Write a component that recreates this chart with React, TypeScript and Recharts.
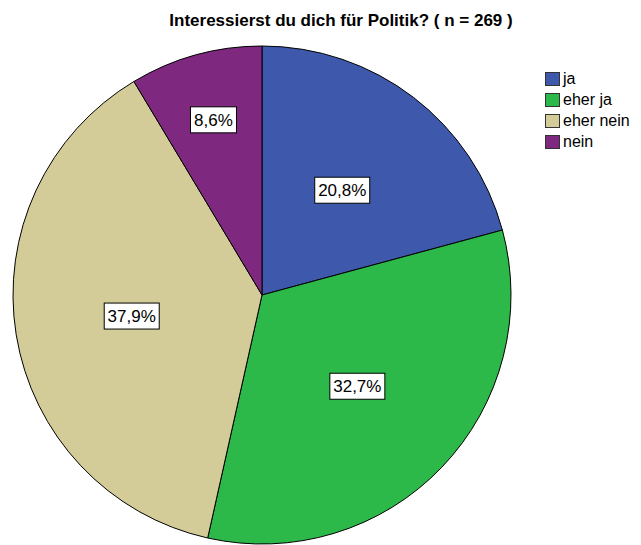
import { PieChart, Pie, Cell, Legend } from 'recharts';

const categories = ['ja', 'eher ja', 'eher nein', 'nein'];
const values = [20.8, 32.7, 37.9, 8.6];
const COLORS = ['#3e58ac', '#2db84a', '#d3cc98', '#7e287f'];

const data = categories.map((name, i) => ({ name, value: values[i] }));

const RADIAN = Math.PI / 180;
const FONT = 'Liberation Sans, Arial, sans-serif';

// SPSS-style boxed percentage labels
function renderLabel(props: any) {
  const { cx, cy, midAngle, outerRadius, value } = props;
  const factor = value < 10 ? 0.73 : 0.53;
  const r = outerRadius * factor;
  const x = cx + r * Math.cos(-midAngle * RADIAN);
  const y = cy + r * Math.sin(-midAngle * RADIAN);
  const text = value.toFixed(1).replace('.', ',') + '%';
  const w = text.length * 9 + 10;
  return (
    <g>
      <rect x={x - w / 2} y={y - 13} width={w} height={26} fill="#fff" stroke="#000" strokeWidth={1} />
      <text x={x} y={y + 6} textAnchor="middle" fontSize={17} fill="#000" fontFamily={FONT}>
        {text}
      </text>
    </g>
  );
}

function renderLegend() {
  return (
    <div style={{ fontFamily: FONT, fontSize: 16 }}>
      {data.map((d, i) => (
        <div key={d.name} style={{ display: 'flex', alignItems: 'center', height: 21 }}>
          <span
            style={{
              width: 15,
              height: 14,
              background: COLORS[i],
              border: '1px solid #333',
              marginRight: 3,
              boxSizing: 'border-box',
            }}
          />
          <span>{d.name}</span>
        </div>
      ))}
    </div>
  );
}

export default function App() {
  return (
    <div style={{ position: 'absolute', left: 0, top: 0, width: 641, height: 545, background: '#fff' }}>
      <PieChart width={641} height={545} margin={{ top: 0, right: 0, bottom: 0, left: 0 }}>
        <text
          x={341}
          y={26}
          textAnchor="middle"
          fontSize={17}
          fontWeight="bold"
          fontFamily={FONT}
          fill="#000"
        >
          Interessierst du dich für Politik? ( n = 269 )
        </text>
        <Pie
          data={data}
          dataKey="value"
          nameKey="name"
          cx={262}
          cy={295}
          outerRadius={249}
          startAngle={90}
          endAngle={-270}
          stroke="#000"
          strokeWidth={1}
          label={renderLabel}
          labelLine={false}
          isAnimationActive={false}
        >
          {data.map((_, i) => (
            <Cell key={i} fill={COLORS[i]} />
          ))}
        </Pie>
        <Legend
          content={renderLegend}
          wrapperStyle={{ position: 'absolute', left: 545, top: 68, width: 96 }}
        />
      </PieChart>
    </div>
  );
}
